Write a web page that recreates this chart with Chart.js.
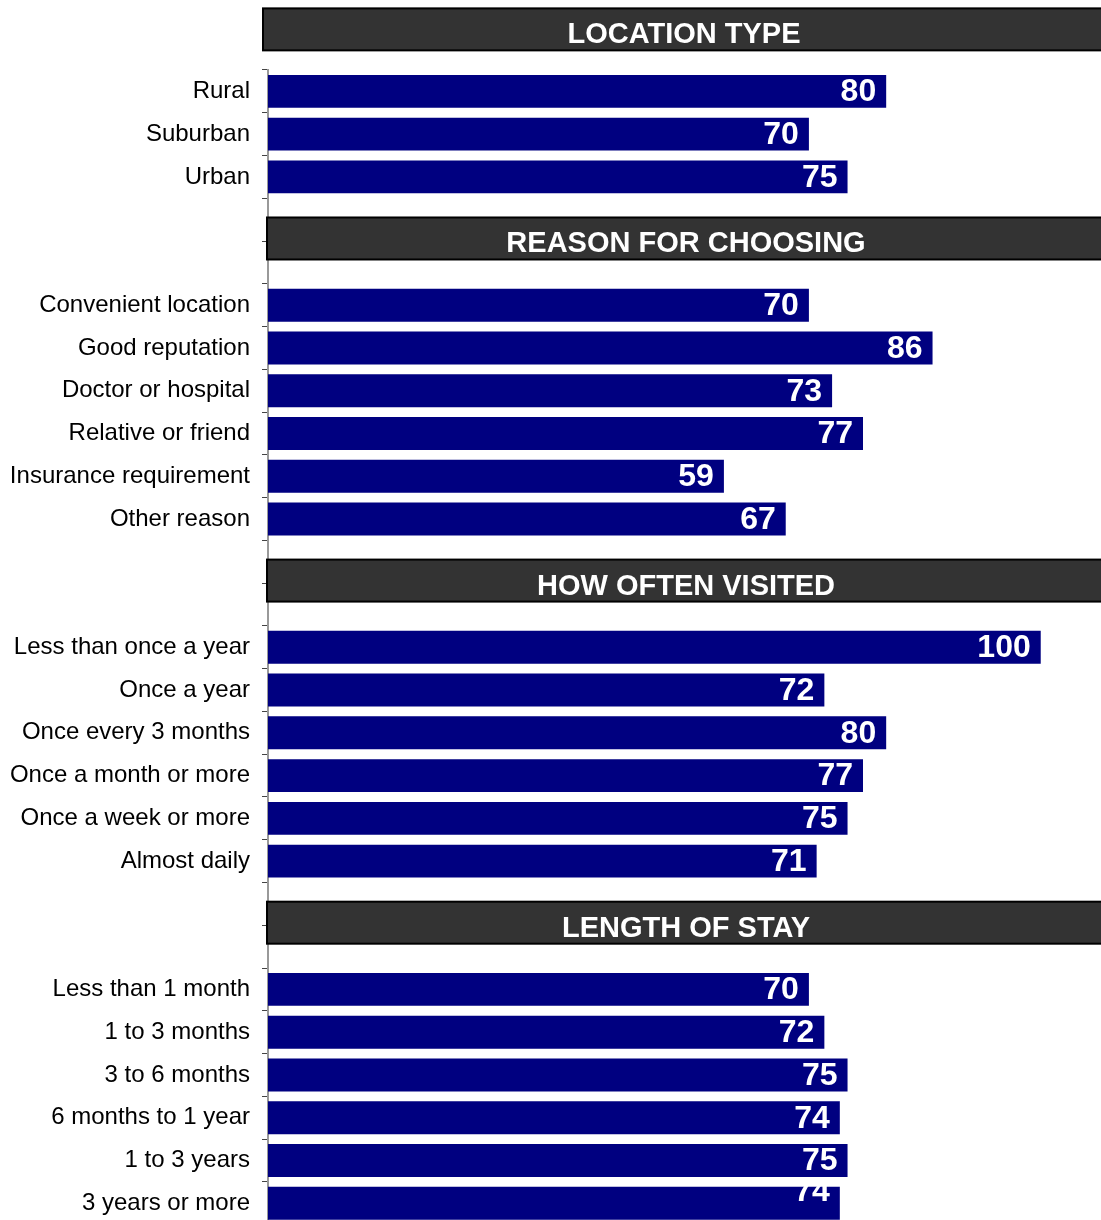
<!DOCTYPE html>
<html>
<head>
<meta charset="utf-8">
<script src="https://cdn.jsdelivr.net/npm/chart.js@4"></script>
<style>
  html, body { margin: 0; padding: 0; background: #fff; overflow: hidden; }
  #wrap { position: relative; width: 1101px; height: 1251px; }
</style>
</head>
<body>
<div id="wrap"><canvas id="chart"></canvas></div>
<script>
// panel titles and rows, top to bottom
const sectionTitles = ["LOCATION TYPE", "REASON FOR CHOOSING", "HOW OFTEN VISITED", "LENGTH OF STAY"];

const locationLabels = ["Rural", "Suburban", "Urban"];
const locationValues = [80, 70, 75];

const reasonLabels = ["Convenient location", "Good reputation", "Doctor or hospital", "Relative or friend", "Insurance requirement", "Other reason"];
const reasonValues = [70, 86, 73, 77, 59, 67];

const visitLabels = ["Less than once a year", "Once a year", "Once every 3 months", "Once a month or more", "Once a week or more", "Almost daily"];
const visitValues = [100, 72, 80, 77, 75, 71];

const stayLabels = ["Less than 1 month", "1 to 3 months", "3 to 6 months", "6 months to 1 year", "1 to 3 years", "3 years or more"];
const stayValues = [70, 72, 75, 74, 75, 74];

// build one long category axis, two empty rows between panels for the headers
const sections = [
  [locationLabels, locationValues],
  [reasonLabels, reasonValues],
  [visitLabels, visitValues],
  [stayLabels, stayValues]
];
const labels = [];
const values = [];
const firstRow = [];
sections.forEach(([labs, vals], i) => {
  if (i > 0) {
    labels.push("", "");
    values.push(null, null);
  }
  firstRow.push(labels.length);
  labs.forEach((l, j) => { labels.push(l); values.push(vals[j]); });
});

const headerPlugin = {
  id: "headers",
  afterDraw(chart) {
    const ctx = chart.ctx;
    const y = chart.scales.y;
    const band = y.getPixelForValue(1) - y.getPixelForValue(0);
    ctx.save();
    sectionTitles.forEach((title, i) => {
      const cy = y.getPixelForValue(firstRow[i]) - (i === 0 ? 1.45 : 1.56) * band;
      const left = i === 0 ? 263 : 267, right = chart.width + 4, h = 42;
      ctx.fillStyle = "#333333";
      ctx.fillRect(left, cy - h / 2, right - left, h);
      ctx.strokeStyle = "#000";
      ctx.lineWidth = 2;
      ctx.strokeRect(left, cy - h / 2, right - left, h);
      ctx.fillStyle = "#fff";
      ctx.font = "bold 29px Arial, 'Liberation Sans', sans-serif";
      ctx.textAlign = "center";
      ctx.textBaseline = "middle";
      ctx.fillText(title, (left + 1101) / 2 + 2, cy + 6);
    });
    ctx.restore();
  }
};

const valueLabelPlugin = {
  id: "valueLabels",
  afterDatasetsDraw(chart) {
    const ctx = chart.ctx;
    const meta = chart.getDatasetMeta(0);
    ctx.save();
    ctx.fillStyle = "#fff";
    ctx.font = "bold 32px Arial, 'Liberation Sans', sans-serif";
    ctx.textAlign = "right";
    ctx.textBaseline = "middle";
    meta.data.forEach((bar, i) => {
      const v = values[i];
      if (v == null) return;
      const ty = Math.min(bar.y + 1, 1192);
      ctx.fillText(String(v), bar.x - 10, ty);
    });
    ctx.restore();
  }
};

new Chart(document.getElementById("chart"), {
  type: "bar",
  data: {
    labels: labels,
    datasets: [{
      data: values,
      backgroundColor: "#000080",
      borderWidth: 0,
      categoryPercentage: 1,
      barPercentage: 0.77
    }]
  },
  options: {
    indexAxis: "y",
    responsive: true,
    maintainAspectRatio: false,
    animation: false,
    layout: { padding: { top: 70, right: 0, bottom: 0, left: 0 } },
    plugins: { legend: { display: false }, tooltip: { enabled: false } },
    scales: {
      x: {
        display: false,
        min: 0,
        max: 107.8
      },
      y: {
        offset: true,
        afterFit(scale) { scale.width = 268; },
        grid: {
          offset: true,
          drawOnChartArea: false,
          drawTicks: true,
          tickLength: 6,
          color: "#444"
        },
        border: { display: true, color: "#999", width: 2 },
        ticks: {
          color: "#000",
          padding: 12,
          autoSkip: false,
          font: { family: "Arial, 'Liberation Sans', sans-serif", size: 24 }
        }
      }
    }
  },
  plugins: [valueLabelPlugin, headerPlugin]
});
</script>
</body>
</html>
